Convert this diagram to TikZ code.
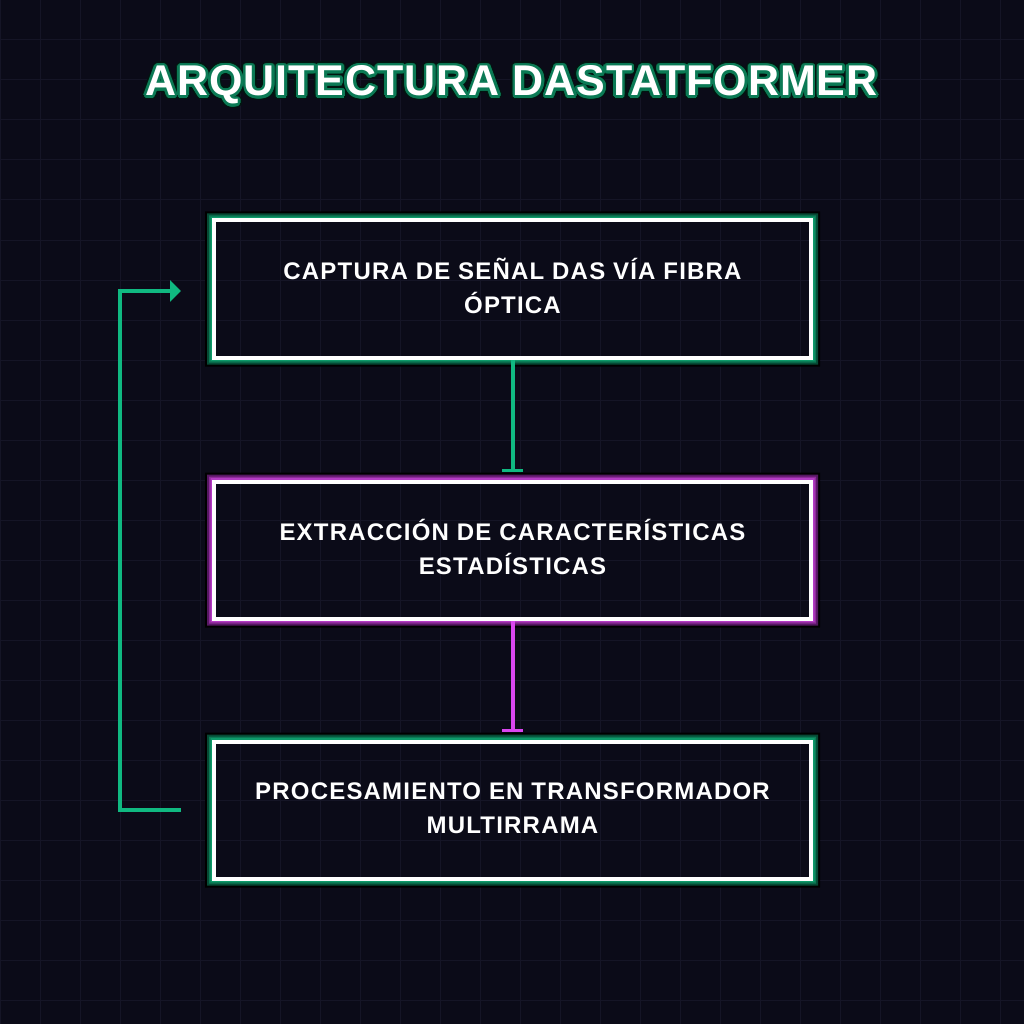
\documentclass[tikz,border=0pt]{standalone}
\usepackage{fontspec}
\setmainfont{Liberation Sans}
\newfontfamily\titlefam[LetterSpace=2.2]{Liberation Sans}
\newfontfamily\boxfam[LetterSpace=5]{Liberation Sans}
\usetikzlibrary{arrows.meta}
\definecolor{bgc}{HTML}{0B0B18}
\definecolor{gridc}{HTML}{151526}
\definecolor{grn}{HTML}{10B981}
\definecolor{grnlight}{HTML}{0E9A6A}
\definecolor{grnmid}{HTML}{0B7A55}
\definecolor{grndark}{HTML}{064A35}
\definecolor{pur}{HTML}{D946EF}
\definecolor{purlight}{HTML}{B43CC4}
\definecolor{purmid}{HTML}{8E2A9A}
\definecolor{purdark}{HTML}{561862}
\pgfdeclarelayer{bg}\pgfdeclarelayer{glow}\pgfsetlayers{bg,glow,main}
\newcommand\glowframe[4]{%
  \fill[black,even odd rule] ([shift={(-9,-9)}]#1.north west) rectangle ([shift={(9,9)}]#1.south east) (#1.north west) rectangle (#1.south east);
  \fill[#4,even odd rule] ([shift={(-7,-7)}]#1.north west) rectangle ([shift={(7,7)}]#1.south east) (#1.north west) rectangle (#1.south east);
  \fill[#3,even odd rule] ([shift={(-5,-5)}]#1.north west) rectangle ([shift={(5,5)}]#1.south east) (#1.north west) rectangle (#1.south east);
  \fill[#2,even odd rule] ([shift={(-3.5,-3.5)}]#1.north west) rectangle ([shift={(3.5,3.5)}]#1.south east) (#1.north west) rectangle (#1.south east);
}
\tikzset{
  box/.style={draw=white, line width=4pt, minimum width=597pt, minimum height=137pt,
    outer sep=0pt, inner sep=0pt},
  boxtext/.style={align=center, text=white, inner sep=0pt,
    font=\boxfam\bfseries\fontsize{24}{34}\selectfont},
  titletext/.style={font=\titlefam\bfseries\fontsize{43}{48}\selectfont, inner sep=0pt},
  conn/.style={line width=4pt},
  teetip/.style={-{Bar[width=21pt,line width=2.5pt]}},
}
\begin{document}
\begin{tikzpicture}[x=1pt,y=-1pt]
\useasboundingbox (0,0) rectangle (1024,1024);
\begin{pgfonlayer}{bg}
  \fill[bgc] (0,0) rectangle (1024,1024);
  \foreach \k in {0,40,...,1000} {
    \draw[gridc, line width=1pt] (\k,0) -- (\k,1024);
    \draw[gridc, line width=1pt] (0,\k) -- (1024,\k);
  }
\end{pgfonlayer}

\node[titletext, text=white] (title) at (511.5,85) {ARQUITECTURA DASTATFORMER};
\begin{pgfonlayer}{glow}
  \foreach \a in {0,20,...,340}
    \node[titletext, text=black!70!grndark] at ([shift={(\a:4.2)}]title.center) {ARQUITECTURA DASTATFORMER};
  \foreach \a in {0,20,...,340}
    \node[titletext, text=grnmid] at ([shift={(\a:2.6)}]title.center) {ARQUITECTURA DASTATFORMER};
\end{pgfonlayer}

\node[box] (b1) at (512.5,289) {};
\node[box] (b2) at (512.5,550) {};
\node[box] (b3) at (512.5,810) {};
\node[boxtext] (t1) at ([yshift=3]b1.center) {CAPTURA DE SEÑAL DAS VÍA FIBRA\\ÓPTICA};
\node[boxtext] (t2) at ([yshift=3]b2.center) {EXTRACCIÓN DE CARACTERÍSTICAS\\ESTADÍSTICAS};
\node[boxtext] (t3) at ([yshift=2]b3.center) {PROCESAMIENTO EN TRANSFORMADOR\\MULTIRRAMA};

\coordinate (loopstart) at ([xshift=-33]b3.west);
\coordinate (loopend) at ([xshift=-33,yshift=-2]b1.west);

\begin{pgfonlayer}{glow}
  \glowframe{b1}{grnlight}{grnmid}{grndark}
  \glowframe{b2}{purlight}{purmid}{purdark}
  \glowframe{b3}{grnlight}{grnmid}{grndark}
  \draw[conn, grn, teetip, shorten >=10pt] (b1.south) -- (b2.north);
  \draw[conn, pur, teetip, shorten >=10pt] (b2.south) -- (b3.north);
  \draw[conn, grn, -{Triangle[width=21pt,length=11pt]}] (loopstart) -- ++(-61,0) |- (loopend);
\end{pgfonlayer}
\end{tikzpicture}
\end{document}
